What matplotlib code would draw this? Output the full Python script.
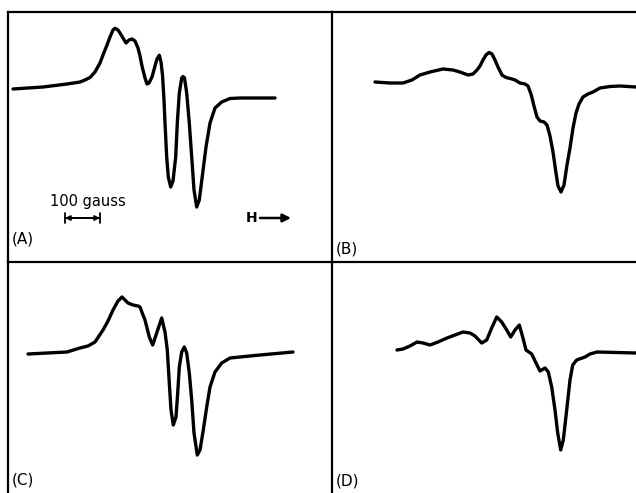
import matplotlib.pyplot as plt

# EPR derivative spectra, four samples; field in chart units (35 units = 100 gauss),
# signal in arbitrary units relative to the low-field baseline
field_a = [5, 35, 59, 72, 77, 82, 87, 92, 95, 99, 102, 105, 107, 110, 112, 115, 118,
           121, 124, 127, 130, 132, 134, 137, 139, 141, 144, 147, 149, 151.3, 153,
           154.5, 156, 157, 158.7, 160.3, 162.7, 165, 167.7, 169.3, 171.3, 173.7,
           175, 176.5, 178.7, 181.3, 183.7, 186, 188.7, 191.3, 194.7, 198, 202, 207,
           213.7, 222, 232, 267]
signal_a = [0, 2, 5, 7, 9, 11.5, 17, 26, 34, 44, 52, 59, 60.7, 59, 56, 51, 46,
            49, 50, 48, 41, 33, 23, 11, 5, 6, 12, 23, 30, 33.7, 27,
            14, -11, -34, -68, -88, -98, -92, -68, -34, -4, 11,
            12.5, 11, -4, -34, -68, -101, -118, -111, -84, -58, -34, -19,
            -13, -9.5, -9, -9]

field_b = [43, 58, 71, 80, 88, 98, 111, 121, 128, 136, 141, 145, 148, 151, 154, 157,
           160, 163, 166, 170, 173, 176, 180, 183, 188, 193, 196, 199, 202, 205, 208,
           212, 215, 218, 221, 224, 226, 229, 232, 235, 238, 241, 244, 247, 251, 256,
           261, 268, 278, 288, 304]
signal_b = [0, -1, -1, 2, 7, 10, 13, 12, 10, 7, 8, 12, 16, 22, 27, 29.5,
            28, 22, 15, 7, 5, 4, 3, 2, -1, -2, -4, -12, -24, -35, -39,
            -40, -43, -54, -70, -91, -104, -110, -103, -83, -66, -46, -31, -22, -15, -12,
            -10, -6, -4.5, -4, -5]

field_c = [20, 59, 72, 80, 87, 95, 100, 105, 110, 114, 117, 120, 125, 130, 132, 135,
           137, 141.3, 144.7, 148.7, 153.7, 157, 159.3, 161.3, 163, 165.3, 168, 169.7,
           171.3, 173.7, 176.3, 178.7, 181.3, 183.7, 186, 189.3, 192, 195.3, 198.7,
           202, 207, 213.7, 222, 252, 285]
signal_c = [0, 2, 6, 8, 12, 24, 33, 44, 53, 57, 54, 51, 49, 48, 47, 39,
            34, 17, 9, 21, 36, 22, 4, -29, -56, -71, -63, -39,
            -13, 2, 7, 1, -19, -46, -79, -101, -96, -76, -53,
            -33, -18, -9, -4, -1, 2]

field_d = [65, 71, 78, 85, 91, 98, 106, 115, 123, 131, 138, 143, 149.7, 154.7, 159.7,
           164.7, 169.7, 174.7, 178.7, 183, 187.3, 190.7, 194, 199.7, 204, 208, 213,
           216.3, 219.7, 223, 225.7, 228.7, 231.3, 234.7, 238, 240.7, 244.7, 253, 258,
           265, 304]
signal_d = [0, 1, 4, 8, 7, 5, 8, 12, 15, 18, 17, 14, 7, 10, 22,
            33, 28, 20, 13, 20, 25, 13, 0, -4, -13, -21, -18,
            -22, -37, -60, -83, -100, -90, -60, -30, -15, -10, -7, -4,
            -2, -3]

panels = ['(A)', '(B)', '(C)', '(D)']
scale_text = '100 gauss'
scale_span = (57, 92)          # 100 gauss in field units
field_label = 'H'

fig = plt.figure(figsize=(6.36, 4.93), dpi=100)
W, H = 636.0, 493.0

# panel boxes in pixels: left, bottom, width, height
boxes = [(8, 231, 324, 250), (332, 231, 304, 250),
         (8, 0, 324, 231), (332, 0, 304, 231)]
ylims = [(-173, 77), (-180, 70), (-139, 92), (-143, 88)]
label_y = [0.094, 0.054, 0.056, 0.052]
data = [(field_a, signal_a), (field_b, signal_b),
        (field_c, signal_c), (field_d, signal_d)]

axes = []
for (l, b, w, h), yl, (fx, sy), name, ly in zip(boxes, ylims, data, panels, label_y):
    ax = fig.add_axes([l / W, b / H, w / W, h / H])
    ax.plot(fx, sy, color='black', lw=2.4, solid_joinstyle='round',
            solid_capstyle='round')
    ax.set_xlim(0, w)
    ax.set_ylim(*yl)
    ax.set_xticks([])
    ax.set_yticks([])
    for side in ['right', 'bottom']:
        ax.spines[side].set_visible(False)
    for side in ['top', 'left']:
        ax.spines[side].set_linewidth(1.6)
    ax.patch.set_alpha(0)
    ax.text(4 / w, ly, name, transform=ax.transAxes,
            fontsize=11, ha='left', va='center')
    axes.append(ax)

# scale bar and field direction in panel A
ax = axes[0]
ax.text(sum(scale_span) / 2 + 5, -117, scale_text, ha='center', va='baseline',
        fontsize=10.5)
ax.annotate('', xy=(scale_span[1], -129), xytext=(scale_span[0], -129),
            arrowprops=dict(arrowstyle='<|-|>', color='black', lw=1.3,
                            mutation_scale=7, shrinkA=0, shrinkB=0))
ax.annotate('', xy=(scale_span[1], -129), xytext=(scale_span[0], -129),
            arrowprops=dict(arrowstyle='|-|, widthA=0.35, widthB=0.35',
                            color='black', lw=1.3, shrinkA=0, shrinkB=0))
ax.text(244, -129, field_label, ha='center', va='center', fontsize=10,
        fontweight='bold')
ax.annotate('', xy=(283, -129), xytext=(252, -129),
            arrowprops=dict(arrowstyle='-|>', color='black', lw=1.8,
                            mutation_scale=12, shrinkA=0, shrinkB=0))

fig.savefig('out.png', dpi=100)
